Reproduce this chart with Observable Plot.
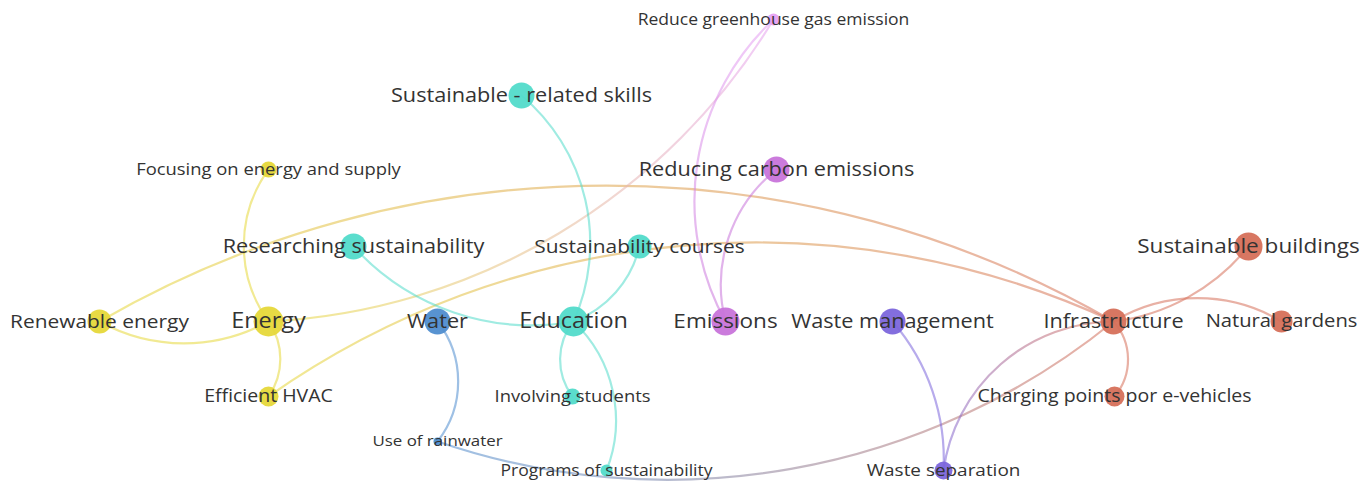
<!DOCTYPE html>
<html>
<head>
<meta charset="utf-8">
<script src="https://cdn.jsdelivr.net/npm/d3@7"></script>
<script src="https://cdn.jsdelivr.net/npm/@observablehq/plot@0.6"></script>
<style>
  html, body { margin: 0; padding: 0; background: #ffffff; }
  #chart svg { display: block; }
</style>
</head>
<body>
<div id="chart"></div>
<script>
// ---- Data (map coordinates) ----
const nodeNames = [
  "Reduce greenhouse gas emission", "Sustainable - related skills", "Focusing on energy and supply",
  "Reducing carbon emissions", "Researching sustainability", "Sustainability courses",
  "Sustainable buildings", "Renewable energy", "Energy", "Water", "Education", "Emissions",
  "Waste management", "Infrastructure", "Natural gardens", "Efficient HVAC", "Involving students",
  "Charging points por e-vehicles", "Use of rainwater", "Programs of sustainability", "Waste separation"
];
const nodeX = [773, 521, 268, 776, 353, 639, 1248, 99, 268, 437, 573, 725, 892, 1113, 1281, 268, 572, 1114, 437, 606, 943];
const nodeY = [19, 95, 169, 169, 246, 246, 246, 321, 321, 321, 321, 321, 321, 321, 321, 396, 396, 396, 441, 470, 470];
const nodeWeight = [6, 13, 8, 13, 13, 12, 14, 12, 15, 13, 15, 14, 13, 13, 11, 10, 8, 10, 4, 6, 9];
const nodeCluster = [
  "Greenhouse", "Education", "Energy", "Emissions", "Education", "Education",
  "Infrastructure", "Energy", "Energy", "Water", "Education", "Emissions",
  "Waste", "Infrastructure", "Infrastructure", "Energy", "Education",
  "Infrastructure", "Water", "Education", "Waste"
];
const clusterNames = ["Energy", "Education", "Water", "Emissions", "Greenhouse", "Waste", "Infrastructure"];
const clusterColors = ["#e6d83a", "#52dbca", "#4f8dcf", "#c874da", "#e6a0f3", "#7c66dc", "#d6705a"];

const linkSource = [
  "Focusing on energy and supply", "Renewable energy", "Energy", "Renewable energy", "Energy",
  "Efficient HVAC", "Reduce greenhouse gas emission", "Reducing carbon emissions",
  "Sustainable - related skills", "Researching sustainability", "Sustainability courses",
  "Education", "Education", "Water", "Use of rainwater", "Waste management", "Waste separation",
  "Infrastructure", "Infrastructure", "Infrastructure"
];
const linkTarget = [
  "Energy", "Energy", "Efficient HVAC", "Infrastructure", "Reduce greenhouse gas emission",
  "Infrastructure", "Emissions", "Emissions",
  "Education", "Education", "Education",
  "Involving students", "Programs of sustainability", "Use of rainwater", "Infrastructure",
  "Waste separation", "Infrastructure",
  "Sustainable buildings", "Natural gardens", "Charging points por e-vehicles"
];
// curvature of each link (degrees; sign = side of the bulge)
const linkBend = [-36, -29, 35, 30, -28, 30, -38, -33, 37, -29, 28, -38, 34, 38, -29, 22, 41, -22, 31, 41];

// ---- Build tables ----
const nodes = nodeNames.map((name, i) => ({
  name, x: nodeX[i], y: nodeY[i], w: nodeWeight[i], cluster: nodeCluster[i]
}));
const byName = new Map(nodes.map(n => [n.name, n]));
const links = linkSource.map((s, i) => {
  const a = byName.get(s), b = byName.get(linkTarget[i]);
  return { x1: a.x, y1: a.y, x2: b.x, y2: b.y, c1: a.cluster, c2: b.cluster };
});

const W = 1371, H = 481;
const linkMarks = links.map((l, i) => Plot.arrow([l], {
  x1: "x1", y1: "y1", x2: "x2", y2: "y2",
  bend: linkBend[i], headLength: 0,
  stroke: "c1", strokeOpacity: 0.55, strokeWidth: 2.2
}));

const chart = Plot.plot({
  width: W, height: H,
  margin: 0,
  x: { domain: [0, W], range: [0, W], axis: null },
  y: { domain: [0, H], range: [0, H], axis: null },
  r: { type: "linear", domain: [0, 15], range: [0, 15] },
  color: { domain: clusterNames, range: clusterColors },
  style: { background: "#ffffff", fontFamily: "'Open Sans', sans-serif" },
  marks: [
    ...linkMarks,
    Plot.dot(nodes, { x: "x", y: "y", r: "w", fill: "cluster", fillOpacity: 0.95, stroke: "none" }),
    Plot.text(nodes, {
      x: "x", y: "y", text: "name",
      fontSize: d => 14.9 + 0.0285 * d.w * d.w,
      fill: "#333333", fontFamily: "'Open Sans', sans-serif",
      textAnchor: "middle", lineAnchor: "middle"
    })
  ]
});

// gradient strokes for the links (source colour -> target colour)
try {
  const xs = chart.scale("x"), ys = chart.scale("y"), cs = chart.scale("color");
  const ns = "http://www.w3.org/2000/svg";
  const defs = document.createElementNS(ns, "defs");
  chart.insertBefore(defs, chart.firstChild);
  const groups = chart.querySelectorAll('g[aria-label="arrow"]');
  groups.forEach((g, i) => {
    const l = links[i]; if (!l) return;
    const grad = document.createElementNS(ns, "linearGradient");
    grad.setAttribute("id", "lg" + i);
    grad.setAttribute("gradientUnits", "userSpaceOnUse");
    grad.setAttribute("x1", xs.apply(l.x1)); grad.setAttribute("y1", ys.apply(l.y1));
    grad.setAttribute("x2", xs.apply(l.x2)); grad.setAttribute("y2", ys.apply(l.y2));
    [[0, cs.apply(l.c1)], [1, cs.apply(l.c2)]].forEach(([o, c]) => {
      const st = document.createElementNS(ns, "stop");
      st.setAttribute("offset", o); st.setAttribute("stop-color", c);
      grad.appendChild(st);
    });
    defs.appendChild(grad);
    g.querySelectorAll("path").forEach(p => p.setAttribute("stroke", "url(#lg" + i + ")"));
  });
} catch (e) { console.error(e); }

// the labels of the reference are slightly wider than Open Sans: stretch horizontally
try {
  chart.querySelectorAll('g[aria-label="text"] text').forEach(t => {
    const tr = t.getAttribute("transform");
    if (tr && /translate/.test(tr)) {
      t.setAttribute("transform", tr + " scale(1.1,1)");
    } else {
      const x = +t.getAttribute("x") || 0, y = +t.getAttribute("y") || 0;
      t.removeAttribute("x"); t.removeAttribute("y");
      t.setAttribute("transform", `${tr || ""} translate(${x},${y}) scale(1.1,1)`);
    }
  });
} catch (e) { console.error(e); }

document.getElementById("chart").appendChild(chart);
</script>
</body>
</html>
